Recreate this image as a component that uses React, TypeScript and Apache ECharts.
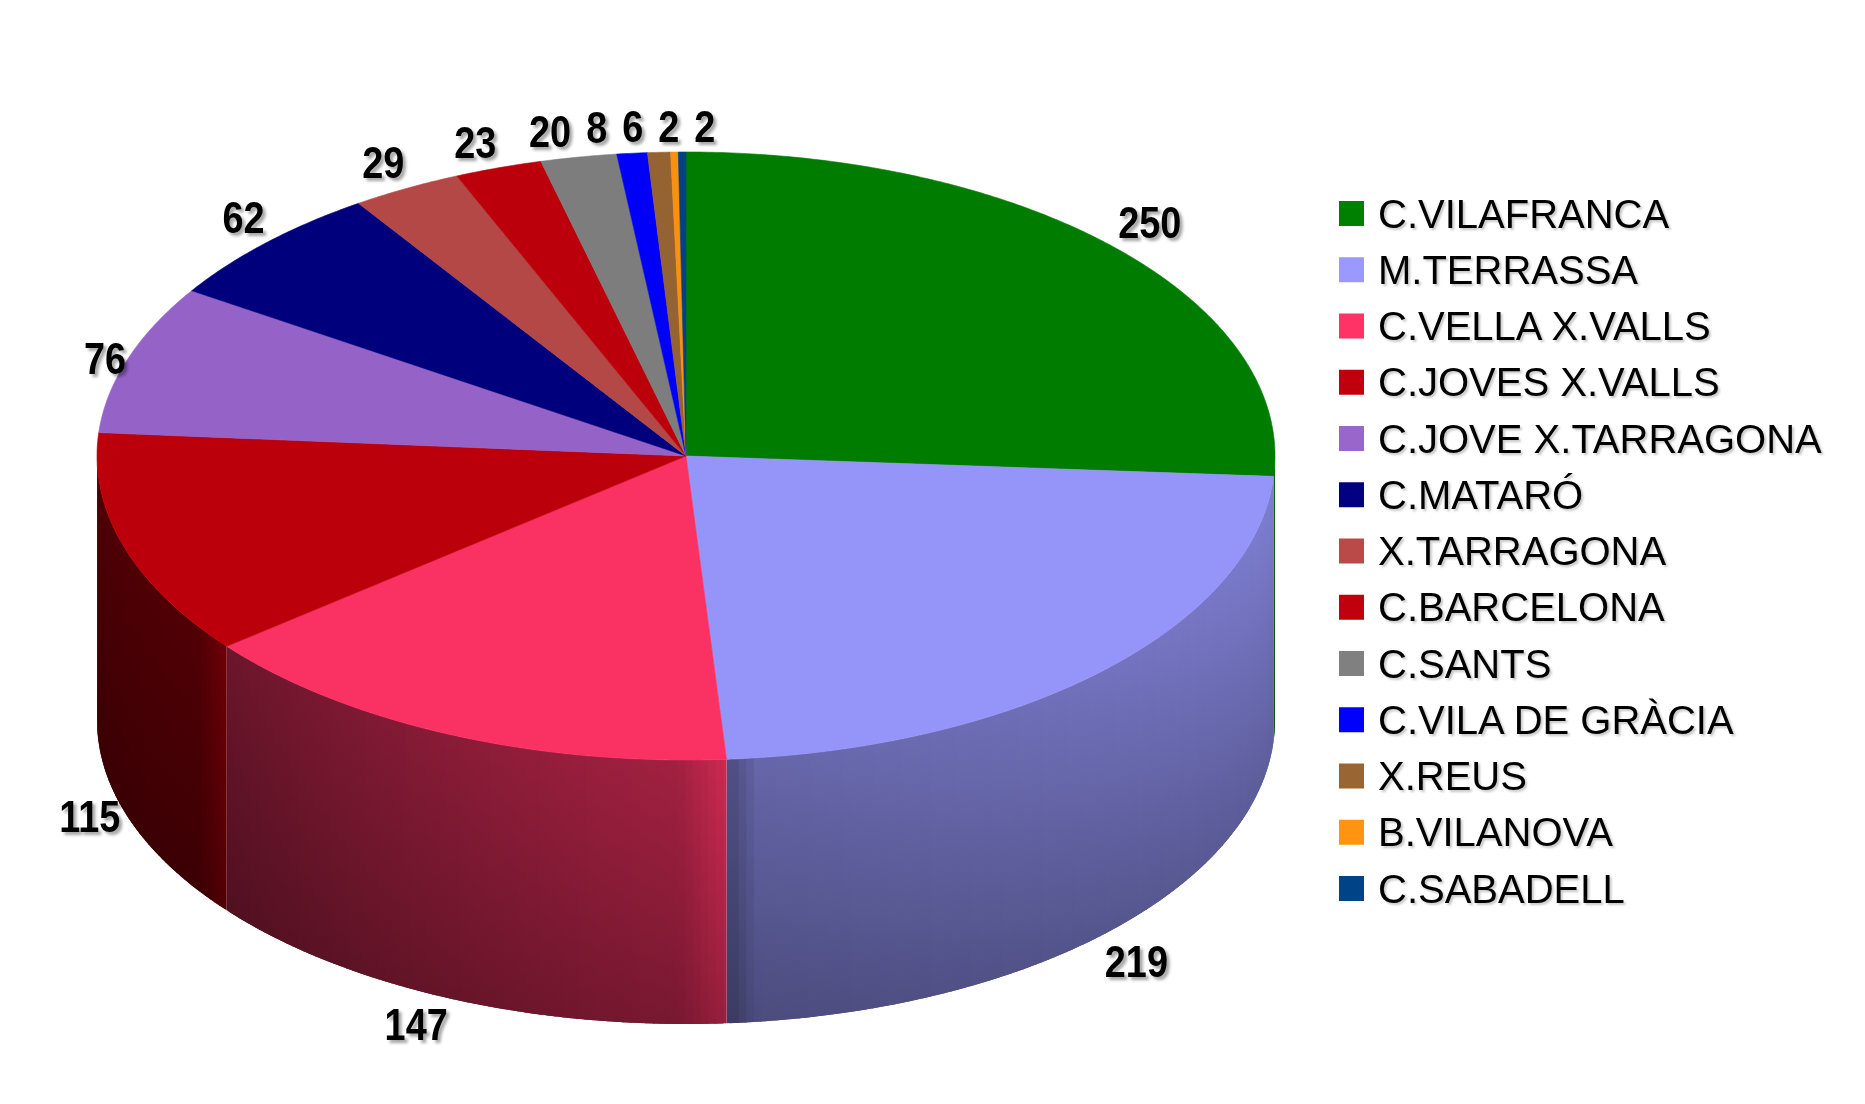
import React, { useEffect, useRef } from "react";
import * as echarts from "echarts";

const categories = [
  "C.VILAFRANCA",
  "M.TERRASSA",
  "C.VELLA X.VALLS",
  "C.JOVES X.VALLS",
  "C.JOVE X.TARRAGONA",
  "C.MATARÓ",
  "X.TARRAGONA",
  "C.BARCELONA",
  "C.SANTS",
  "C.VILA DE GRÀCIA",
  "X.REUS",
  "B.VILANOVA",
  "C.SABADELL",
];
const values = [250, 219, 147, 115, 76, 62, 29, 23, 20, 8, 6, 2, 2];
const colors = [
  "#008000",
  "#9999FF",
  "#FF3366",
  "#C0000C",
  "#9966CC",
  "#000080",
  "#B94A48",
  "#C0000C",
  "#808080",
  "#0000FF",
  "#996633",
  "#FF9410",
  "#004488",
];

// layout of the 3D pie (styling, not data)
const CX = 686;
const CY = 456;
const RX = 589;
const RY = 304;
const DEPTH = 264;
const LABEL_FS = 44;
const LABEL_SX = 0.86;
const FONT = '"Liberation Sans", Arial, sans-serif';

const TAU = Math.PI * 2;
const DEG = Math.PI / 180;

const total = values.reduce((a, b) => a + b, 0);
const starts: number[] = [];
{
  let acc = 0;
  for (const v of values) {
    starts.push((acc / total) * TAU);
    acc += v;
  }
}
const angleOf = (i: number) => [starts[i], starts[i] + (values[i] / total) * TAU];

const pt = (t: number): [number, number] => [CX + RX * Math.sin(t), CY - RY * Math.cos(t)];

function hexToRgb(h: string) {
  const n = parseInt(h.slice(1), 16);
  return [(n >> 16) & 255, (n >> 8) & 255, n & 255];
}
function scaleColor(h: string, f: number) {
  const [r, g, b] = hexToRgb(h);
  const c = (v: number) => Math.max(0, Math.min(255, Math.round(v * f)));
  return `rgb(${c(r)},${c(g)},${c(b)})`;
}

function sideFactor(deg: number, startDeg: number, endDeg: number) {
  const pts = [
    [90, 0.84],
    [176, 0.66],
    [232, 0.42],
    [270, 0.4],
  ];
  let f = pts[pts.length - 1][1];
  if (deg <= pts[0][0]) f = pts[0][1];
  for (let k = 0; k < pts.length - 1; k++) {
    if (deg >= pts[k][0] && deg <= pts[k + 1][0]) {
      const u = (deg - pts[k][0]) / (pts[k + 1][0] - pts[k][0]);
      f = pts[k][1] + u * (pts[k + 1][1] - pts[k][1]);
    }
  }
  const d = deg - startDeg;
  if (d >= 0 && d < 5 && startDeg > 100) f += 0.17 * (1 - d / 5);
  const e = endDeg - deg;
  if (e >= 0 && e < 2.5 && endDeg < 200) f -= 0.16 * (1 - e / 2.5);
  return f;
}

const clamp01 = (v: number) => Math.max(0, Math.min(1, v));

type Lab = { x: number; y: number; w: number; h: number; mid: number };
function layoutLabels(): Lab[] {
  const digitW = 0.556 * LABEL_FS * LABEL_SX;
  const labs: Lab[] = values.map((v, i) => {
    const [a0, a1] = angleOf(i);
    const mid = (a0 + a1) / 2;
    const s = Math.sin(mid);
    const c = Math.cos(mid);
    const [ax, ay0] = pt(mid);
    const front = c < 0;
    const ay = front ? ay0 + DEPTH : ay0;
    const w = String(v).length * digitW;
    const hx = Math.sign(s) * (w / 2 + 2);
    const vy = front
      ? 25 * clamp01((-c - 0.2) / 0.45) + 2
      : -34 * clamp01((c - 0.2) / 0.45) + 9;
    return { x: ax + hx, y: ay + vy, w, h: LABEL_FS * 0.75, mid };
  });
  const PAD = 15;
  const inTop = (m: number) => m > 1.5 * Math.PI && m < TAU;
  for (let it = 0; it < 400; it++) {
    for (let i = 0; i < labs.length - 1; i++) {
      const A = labs[i];
      const B = labs[i + 1];
      if (!inTop(A.mid) || !inTop(B.mid)) continue;
      if (Math.abs(A.y - B.y) >= A.h) continue;
      const need = (A.w + B.w) / 2 + PAD;
      const gap = B.x - A.x;
      if (gap < need) {
        const sh = (need - gap) / 2;
        A.x -= sh;
        B.x += sh;
      }
    }
  }
  return labs;
}
const labels = layoutLabels();

function renderSlice(i: number) {
  return () => {
    const [a0, a1] = angleOf(i);
    const col = colors[i];
    const children: any[] = [];
    // side wall (front half only)
    const vs = Math.max(a0, Math.PI / 2);
    const ve = Math.min(a1, 1.5 * Math.PI);
    if (ve > vs) {
      const step = 0.75 * DEG;
      const n = Math.max(1, Math.ceil((ve - vs) / step));
      const st = (ve - vs) / n;
      for (let j = 0; j < n; j++) {
        const t0 = Math.max(vs, vs + st * j - st * 0.6);
        const t1 = Math.min(ve, vs + st * (j + 1) + st * 0.6);
        const tm = vs + st * (j + 0.5);
        const f = sideFactor(tm / DEG, a0 / DEG, a1 / DEG);
        const [x0, y0] = pt(t0);
        const [x1, y1] = pt(t1);
        const grad = new echarts.graphic.LinearGradient(0, 0, 0, 1, [
          { offset: 0, color: scaleColor(col, f) },
          { offset: 1, color: scaleColor(col, f * 0.74) },
        ]);
        children.push({
          type: "polygon",
          z2: 1,
          shape: {
            points: [
              [x0, y0],
              [x1, y1],
              [x1, y1 + DEPTH],
              [x0, y0 + DEPTH],
            ],
          },
          style: { fill: grad },
        });
      }
    }
    // top face
    const pts: number[][] = [[CX, CY]];
    const m = Math.max(2, Math.ceil((a1 - a0) / (0.5 * DEG)));
    for (let j = 0; j <= m; j++) {
      pts.push(pt(a0 + ((a1 - a0) * j) / m));
    }
    const topCol = scaleColor(col, 0.975);
    children.push({
      type: "polygon",
      z2: 2,
      shape: { points: pts },
      style: { fill: topCol, stroke: topCol, lineWidth: 0.6 },
    });
    // value label
    const L = labels[i];
    children.push({
      type: "text",
      z2: 10,
      x: L.x,
      y: L.y,
      scaleX: LABEL_SX,
      style: {
        text: String(values[i]),
        x: 0,
        y: 0,
        align: "center",
        verticalAlign: "middle",
        fontSize: LABEL_FS,
        fontWeight: "bold",
        fontFamily: FONT,
        fill: "#000",
        textShadowColor: "rgba(0,0,0,0.35)",
        textShadowBlur: 3,
        textShadowOffsetX: 3,
        textShadowOffsetY: 3,
      },
    });
    return { type: "group", children };
  };
}

export default function App() {
  const ref = useRef<HTMLDivElement>(null);
  useEffect(() => {
    if (!ref.current) return;
    const chart = echarts.init(ref.current, undefined, { renderer: "svg" });
    const series = categories.map((name, i) => ({
      type: "custom",
      name,
      coordinateSystem: "none",
      data: [values[i]],
      itemStyle: { color: colors[i] },
      silent: true,
      renderItem: renderSlice(i),
    }));
    chart.setOption({
      animation: false,
      backgroundColor: "#ffffff",
      color: colors,
      legend: {
        orient: "vertical",
        left: 1339,
        top: 193.5,
        padding: 0,
        itemWidth: 25,
        itemHeight: 25,
        itemGap: 16.25,
        icon: "rect",
        selectedMode: false,
        data: categories.map((name, i) => ({ name, itemStyle: { color: colors[i] } })),
        textStyle: {
          fontSize: 40,
          lineHeight: 40,
          fontFamily: FONT,
          color: "#000",
          padding: [0, 0, 0, 9],
          textShadowColor: "rgba(0,0,0,0.22)",
          textShadowBlur: 2,
          textShadowOffsetX: 2,
          textShadowOffsetY: 2,
        },
      },
      series,
    });
    return () => chart.dispose();
  }, []);
  return (
    <div
      ref={ref}
      style={{ position: "absolute", left: 0, top: 0, width: 1865, height: 1104, background: "#fff" }}
    />
  );
}
